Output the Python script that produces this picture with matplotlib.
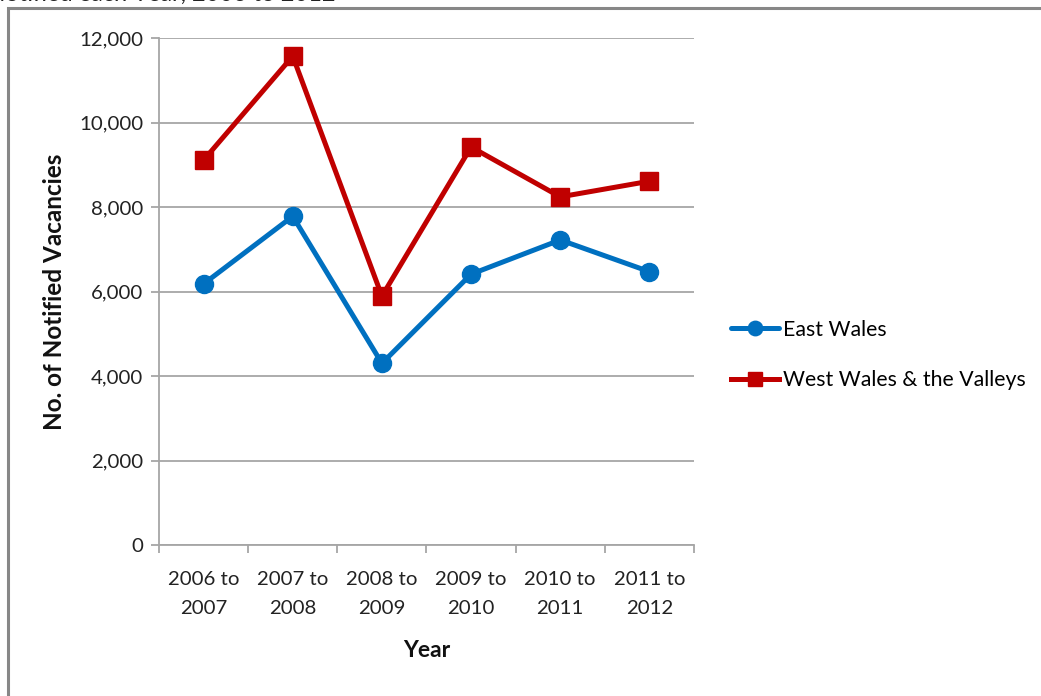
import matplotlib
matplotlib.use("Agg")
import matplotlib.pyplot as plt
from matplotlib.patches import Rectangle
from matplotlib.ticker import FuncFormatter, MultipleLocator, FixedLocator

plt.rcParams['font.family'] = ['Lato', 'DejaVu Sans']

periods = ["2006 to\n2007", "2007 to\n2008", "2008 to\n2009",
           "2009 to\n2010", "2010 to\n2011", "2011 to\n2012"]
east_wales = [6180, 7780, 4300, 6410, 7220, 6470]
west_wales = [9110, 11570, 5890, 9420, 8240, 8610]

BLUE = "#0070C0"
RED = "#C00000"
GRID = "#A6A6A6"

fig = plt.figure(figsize=(10.41, 6.96), dpi=100)
W, H = 1041, 696

# outer chart frame (runs off the right and bottom edges)
fig.patches.append(Rectangle((8 / W, -0.1), 1.2, (H - 8) / H + 0.1,
                             transform=fig.transFigure, fill=False,
                             edgecolor="#878787", linewidth=2.2))

# heading sitting mostly above the visible area
fig.text(335 / W, 1 - 0.7 / H, "Vacancies Notified each Year, 2006 to 2012",
         ha="right", va="baseline", fontsize=17, color="#222222")

ax = fig.add_axes([159 / W, 1 - 545 / H, (694 - 159) / W, (545 - 38) / H])

x = list(range(len(periods)))
ax.plot(x, east_wales, color=BLUE, lw=3.6, marker="o", ms=13,
        label="East Wales", zorder=3, solid_capstyle="round")
ax.plot(x, west_wales, color=RED, lw=3.6, marker="s", ms=12.5,
        label="West Wales & the Valleys", zorder=3)

ax.set_xlim(-0.5, len(periods) - 0.5)
ax.set_ylim(0, 12000)
ax.yaxis.set_major_locator(MultipleLocator(2000))
ax.yaxis.set_major_formatter(FuncFormatter(lambda v, p: f"{int(v):,}"))
ax.grid(axis="y", color=GRID, lw=1.3, zorder=0)

ax.set_xticks(x)
ax.set_xticklabels(periods, fontsize=14.7, color="#222222", linespacing=1.85)
ax.xaxis.set_minor_locator(FixedLocator([i - 0.5 for i in range(len(periods) + 1)]))
ax.tick_params(axis="x", which="major", length=0, pad=19)
ax.tick_params(axis="x", which="minor", length=6, width=1.3, color=GRID)
ax.tick_params(axis="y", length=5.5, width=1.3, color=GRID, labelsize=14.7,
               labelcolor="#222222", pad=6)

for s in ("top", "right"):
    ax.spines[s].set_visible(False)
for s in ("left", "bottom"):
    ax.spines[s].set_color(GRID)
    ax.spines[s].set_linewidth(1.3)

ax.set_ylabel("No. of Notified Vacancies", fontsize=17.5, fontweight="bold",
              color="#111111", labelpad=9)
ax.set_xlabel("Year", fontsize=16.5, fontweight="bold", color="#111111",
              labelpad=16)

fig.legend(loc="center left", bbox_to_anchor=(722 / W, 1 - 355 / H),
           frameon=False, fontsize=15.3, handlelength=2.3, handletextpad=0.15,
           labelspacing=1.45, markerscale=0.8, borderaxespad=0)

fig.savefig("out.png", dpi=100, facecolor="white")
